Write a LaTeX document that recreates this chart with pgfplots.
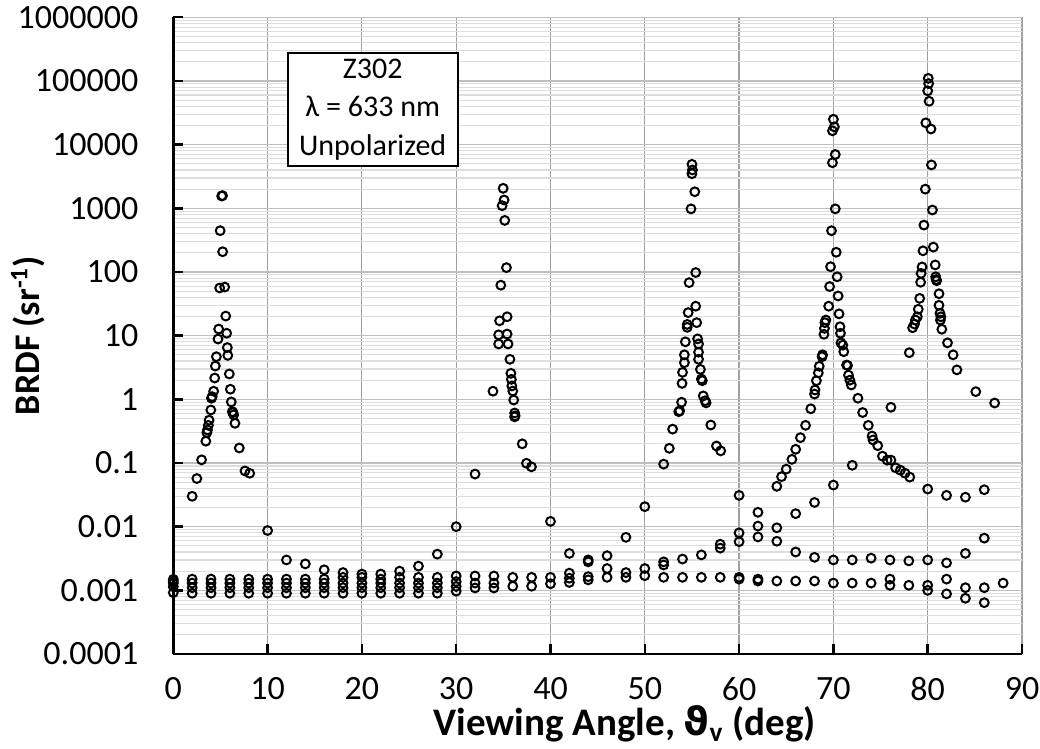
\documentclass[border=0pt]{standalone}
\usepackage{pgfplots}
\pgfplotsset{compat=1.18}
\usepackage{fontspec}
\setmainfont{Carlito}
\newfontfamily\dejavu{DejaVu Sans}

\definecolor{xgrid}{HTML}{A0A0A0}
\definecolor{ygridmaj}{HTML}{BFBFBF}
\definecolor{ygridmin}{HTML}{DDDDDD}

\pgfplotsset{
  pts/.style={only marks, mark=o, mark size=2.2pt, black,
    mark options={line width=1pt}},
}

\begin{document}
\begin{tikzpicture}
\begin{axis}[
  name=main,
  at={(0,0)}, anchor=south west,
  scale only axis,
  width=424.35pt, height=318.35pt,
  ymode=log,
  xmin=0, xmax=90, ymin=1e-4, ymax=1e6,
  enlargelimits=false,
  clip=false,
  axis lines*=left,
  axis line style={black, line width=1.4pt, -},
  xtick={0,10,...,90},
  ytick={1e-4,1e-3,1e-2,1e-1,1,10,100,1000,1e4,1e5,1e6},
  yticklabels={0.0001,0.001,0.01,0.1,1,10,100,1000,10000,100000,1000000},
  minor ytick={2e-4,3e-4,4e-4,5e-4,6e-4,7e-4,8e-4,9e-4,
    2e-3,3e-3,4e-3,5e-3,6e-3,7e-3,8e-3,9e-3,
    2e-2,3e-2,4e-2,5e-2,6e-2,7e-2,8e-2,9e-2,
    0.2,0.3,0.4,0.5,0.6,0.7,0.8,0.9,
    2,3,4,5,6,7,8,9,
    20,30,40,50,60,70,80,90,
    200,300,400,500,600,700,800,900,
    2000,3000,4000,5000,6000,7000,8000,9000,
    2e4,3e4,4e4,5e4,6e4,7e4,8e4,9e4,
    2e5,3e5,4e5,5e5,6e5,7e5,8e5,9e5},
  xmajorgrids, ymajorgrids, yminorgrids,
  major x grid style={xgrid, line width=0.6pt},
  major y grid style={ygridmaj, line width=0.6pt},
  minor y grid style={ygridmin, line width=0.6pt},
  tick align=inside,
  major tick length=5pt,
  minor tick length=0pt,
  tick style={black, line width=1.2pt},
  /pgf/number format/assume math mode=true,
  tick label style={font=\fontsize{17}{20}\selectfont},
  yticklabel style={xshift=-14pt},
  xticklabel style={yshift=-8pt},
  xlabel={Viewing Angle, {\dejavu ϑ}\textsubscript{v} (deg)},
  ylabel={BRDF (sr\textsuperscript{-1})},
  every axis x label/.style={at={(axis description cs:0.532,0)}, anchor=center,
    yshift=-35pt, font=\bfseries\fontsize{19.5}{23}\selectfont},
  every axis y label/.style={at={(axis description cs:-0.171,0.5)}, anchor=center,
    rotate=90, font=\bfseries\fontsize{18}{22}\selectfont},
]
% peak near 5 deg
\addplot[pts] table {
x y
2.0 0.030
2.5 0.057
3.0 0.112
3.45 0.22
3.56 0.30
3.62 0.33
3.72 0.39
3.80 0.47
3.98 0.68
4.05 1.04
4.12 1.10
4.28 1.34
4.39 2.16
4.46 3.33
4.57 4.67
4.74 8.85
4.81 12.7
4.92 56
4.97 445
5.13 1560
5.22 1580
5.23 208
5.45 58
5.56 20.3
5.66 10.9
5.73 6.5
5.78 4.9
5.94 2.5
6.05 1.44
6.15 0.91
6.26 0.64
6.33 0.62
6.40 0.57
6.54 0.42
7.0 0.172
7.6 0.075
8.1 0.069
10.0 0.0087
};
% peak near 35 deg
\addplot[pts] table {
x y
30.0 0.010
32.0 0.067
33.9 1.34
34.5 7.4
34.5 10.3
34.6 17.1
34.73 62
34.87 1100
34.98 2060
35.08 1350
35.15 645
35.33 117
35.4 19.8
35.4 10.6
35.5 7.4
35.7 4.25
35.8 2.56
35.85 2.06
35.9 1.62
36.0 1.35
36.1 0.975
36.2 0.61
36.25 0.55
36.2 0.53
37.0 0.20
37.45 0.099
37.98 0.087
40.0 0.0121
};
% peak near 55 deg
\addplot[pts] table {
x y
50.0 0.0206
52.0 0.096
52.6 0.17
52.95 0.34
53.6 0.64
53.7 0.66
53.9 0.90
53.95 1.78
54.0 2.65
54.2 3.76
54.2 5.0
54.3 8.0
54.5 13.5
54.5 15
54.6 23
54.7 68
54.9 980
55.0 4900
55.05 4000
55.0 3500
55.3 1820
55.4 98
55.4 29
55.5 16
55.6 8.9
55.7 7.4
55.7 5.5
55.7 4.25
55.9 2.95
56.0 2.08
56.1 1.96
56.2 1.13
56.4 0.95
56.5 0.88
57.0 0.395
57.6 0.185
58.05 0.155
};
% peak near 70 deg
\addplot[pts] table {
x y
60.0 0.031
62.0 0.0168
64.0 0.043
64.5 0.061
65.0 0.080
65.6 0.114
66.0 0.164
66.5 0.25
67.05 0.39
67.6 0.71
68.0 1.21
68.05 1.4
68.2 1.96
68.4 2.6
68.5 3.3
68.8 4.67
68.85 5.0
69.0 10.5
69.05 13.0
69.1 16
69.2 17.6
69.5 29
69.6 59
69.7 121
69.8 445
69.9 5200
69.9 16500
70.0 25000
70.1 19000
70.2 7000
70.2 980
70.3 204
70.4 84
70.5 42
70.6 22
70.7 13.8
70.75 10.9
70.8 7.7
71.0 7.1
71.1 5.6
71.4 3.46
71.5 3.4
71.6 2.4
71.75 2.0
71.9 1.68
72.6 1.04
73.1 0.62
73.7 0.39
74.1 0.265
74.2 0.23
74.7 0.187
75.2 0.128
75.7 0.111
76.1 0.111
76.6 0.084
77.1 0.077
77.6 0.069
78.1 0.060
66.0 0.016
68.0 0.024
70.0 0.045
72.0 0.092
};
% peak near 80 deg
\addplot[pts] table {
x y
76.1 0.75
78.05 5.4
78.4 13.3
78.6 15.2
78.7 17.6
78.9 19.8
79.0 26
79.15 38.5
79.25 69
79.3 95
79.4 120
79.5 215
79.6 545
79.75 2000
79.8 22000
80.06 110000
80.1 91000
80.0 70000
80.15 48000
80.35 17600
80.4 4800
80.5 940
80.6 246
80.8 129
80.85 84
80.9 76
80.95 73
81.2 45.5
81.2 30
81.3 22.4
81.4 19.8
81.35 17.6
81.5 12.6
82.1 7.7
82.7 5.0
83.1 2.9
85.1 1.32
87.1 0.875
80.0 0.039
82.0 0.031
84.0 0.029
86.0 0.038
};
% off-peak points
\addplot[pts] table {
x y
12 0.0030
14 0.0026
16 0.0021
18 0.0019
20 0.0018
22 0.0018
24 0.0020
26 0.0024
28 0.0037
42 0.0038
44 0.0030
44 0.0028
46 0.0035
46 0.0022
48 0.0068
50 0.0022
52 0.0028
52 0.0025
54 0.0031
56 0.0036
58 0.0053
58 0.0046
60 0.0080
60 0.0058
62 0.0102
62 0.0069
64 0.0096
64 0.0059
66 0.0040
68 0.0033
70 0.0030
72 0.0030
74 0.0032
76 0.0030
78 0.0029
80 0.0030
82 0.0027
84 0.0038
86 0.0066
};
% diffuse floor
\addplot[pts] table {
x y
0 0.00149
0 0.00138
0 0.00129
0 0.00114
0 0.00092
2 0.0015
2 0.0013
2 0.0011
2 0.0009
4 0.0015
4 0.0013
4 0.0011
4 0.0009
6 0.0015
6 0.0013
6 0.0011
6 0.0009
8 0.0015
8 0.0013
8 0.0011
8 0.0009
10 0.0015
10 0.0013
10 0.0011
10 0.0009
12 0.0015
12 0.0013
12 0.0011
12 0.0009
14 0.0015
14 0.0013
14 0.0011
14 0.0009
16 0.0015
16 0.0013
16 0.0011
16 0.0009
18 0.0016
18 0.0013
18 0.0011
18 0.0009
20 0.0016
20 0.0013
20 0.0011
20 0.0009
22 0.0015
22 0.0013
22 0.0011
22 0.0009
24 0.0016
24 0.0013
24 0.0011
24 0.0009
26 0.0016
26 0.0013
26 0.0011
26 0.0009
28 0.0016
28 0.0013
28 0.0011
28 0.0009
30 0.00168
30 0.00137
30 0.00115
30 0.00097
32 0.00168
32 0.0013
32 0.00109
34 0.00168
34 0.0013
34 0.00109
36 0.0016
36 0.00116
38 0.0016
38 0.00116
40 0.0016
40 0.00127
42 0.00186
42 0.00155
42 0.00133
44 0.00164
44 0.00146
46 0.0016
48 0.0019
48 0.0016
50 0.0017
52 0.0016
54 0.0016
56 0.0016
58 0.0016
60 0.0016
60 0.0015
62 0.0015
62 0.0014
64 0.0014
66 0.0014
68 0.0014
70 0.0013
72 0.0013
74 0.0013
76 0.0015
76 0.0012
78 0.0012
80 0.0012
80 0.0010
82 0.0015
82 0.00088
84 0.0011
84 0.00075
86 0.0011
86 0.00064
88 0.0013
};
\node[draw=black, line width=1pt, fill=white, align=center,
  minimum width=85pt, minimum height=56.5pt, inner sep=2pt,
  font=\fontsize{15}{19.2}\selectfont]
  at (rel axis cs:0.235,0.855) {Z302\\λ = 633 nm\\Unpolarized};
\end{axis}
\pgfresetboundingbox
\path[use as bounding box] (-86.65pt,-47.5pt) rectangle (433.35pt,327pt);
\end{tikzpicture}
\end{document}
